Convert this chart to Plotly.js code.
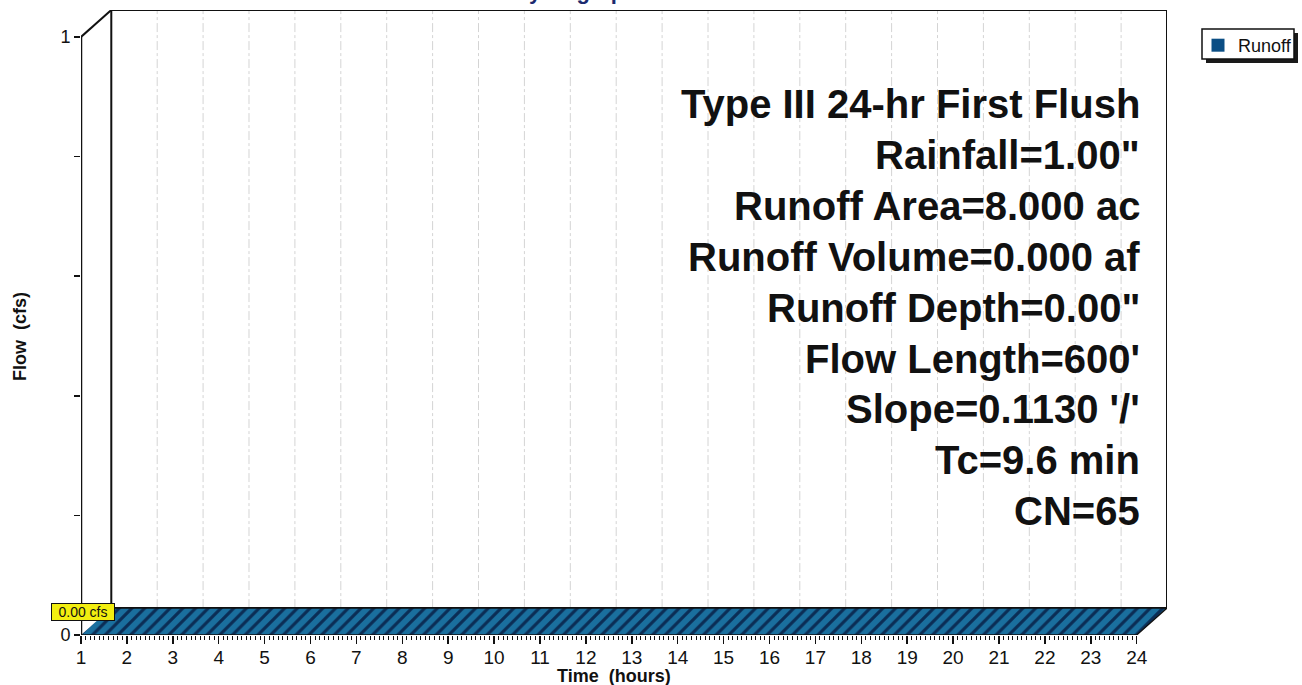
<!DOCTYPE html>
<html>
<head>
<meta charset="utf-8">
<script src="https://cdn.plot.ly/plotly-3.0.1.min.js"></script>
<style>html,body{margin:0;padding:0;background:#fff;}#chart{width:1302px;height:685px;}</style>
</head>
<body>
<div id="chart"></div>
<script>
// ---- data ----
const hours = [1,2,3,4,5,6,7,8,9,10,11,12,13,14,15,16,17,18,19,20,21,22,23,24];
const runoff = [0,0,0,0,0,0,0,0,0,0,0,0,0,0,0,0,0,0,0,0,0,0,0,0];
const yTickVals = [0,0.2,0.4,0.6,0.8,1];
const yTickText = ['0','','','','','1'];
const seriesName = 'Runoff';
const chartTitle = 'Hydrograph';
const xTitle = 'Time&nbsp;&nbsp;(hours)';
const yTitle = 'Flow&nbsp;&nbsp;(cfs)';
const infoLines = [
  'Type III 24-hr First Flush',
  'Rainfall=1.00"',
  'Runoff Area=8.000 ac',
  'Runoff Volume=0.000 af',
  'Runoff Depth=0.00"',
  "Flow Length=600'",
  "Slope=0.1130 '/'",
  'Tc=9.6 min',
  'CN=65'
];

// ---- styling / geometry ----
const W = 1302, H = 685;
const DX = 0.66, DY = 0.045;          // depth offset of the pseudo-3D back plane (data units)
const FONT = 'Liberation Sans, Arial, Helvetica, sans-serif';
const INK = '#111111';
const yMax = yTickVals[yTickVals.length - 1];
const xMin = hours[0], xMax = hours[hours.length - 1];

const px = v => v / W;
const py = v => 1 - v / H;

// ribbon (zero-flow series drawn with depth)
const ribbonX = hours.concat(hours.slice().reverse().map(h => h + DX));
const ribbonY = runoff.concat(runoff.slice().reverse().map(q => q + DY));

const minorTicks = [];
for (let i = 0; i <= (xMax - xMin) * 10; i++) minorTicks.push(+(xMin + i / 10).toFixed(2));

const traces = [
  {
    type: 'scatter', mode: 'lines', x: ribbonX, y: ribbonY,
    fill: 'toself', fillcolor: '#1a6f9e',
    fillpattern: {shape: '/', fgcolor: '#0b2d55', bgcolor: '#1a6f9e', size: 9, solidity: 0.35},
    line: {color: INK, width: 1.3}, showlegend: false, hoverinfo: 'skip'
  },
  {
    type: 'scatter', mode: 'markers', x: [null], y: [null], name: seriesName,
    marker: {symbol: 'square', size: 13, color: '#0b4e84'}, showlegend: true
  }
];

const shapes = [];
// back-plane vertical dash-dot gridlines
hours.slice(1, -1).forEach(h => {
  shapes.push({type: 'line', xref: 'x', yref: 'y', x0: h + DX, x1: h + DX, y0: DY, y1: yMax + DY,
    line: {color: '#d4d4d4', width: 1, dash: 'dashdot'}, layer: 'below'});
});
// back plane frame
shapes.push({type: 'rect', xref: 'x', yref: 'y', x0: xMin + DX, x1: xMax + DX, y0: DY, y1: yMax + DY,
  line: {color: INK, width: 2}, fillcolor: 'rgba(0,0,0,0)', layer: 'below'});
// front y-axis line and top diagonal
shapes.push({type: 'line', xref: 'x', yref: 'y', x0: xMin, x1: xMin, y0: 0, y1: yMax,
  line: {color: INK, width: 2.5}, layer: 'above'});
shapes.push({type: 'line', xref: 'x', yref: 'y', x0: xMin, x1: xMin + DX, y0: yMax, y1: yMax + DY,
  line: {color: INK, width: 2}, layer: 'above'});
// legend box with drop shadow
shapes.push({type: 'rect', xref: 'paper', yref: 'paper', x0: px(1206), x1: px(1298), y0: py(63), y1: py(33),
  line: {width: 0}, fillcolor: '#1a1a1a', layer: 'above'});
shapes.push({type: 'rect', xref: 'paper', yref: 'paper', x0: px(1202), x1: px(1294), y0: py(59), y1: py(29),
  line: {width: 1.5, color: INK}, fillcolor: '#ffffff', layer: 'above'});

const annotations = infoLines.map((t, i) => ({
  xref: 'paper', yref: 'paper', x: px(1142), y: py(104 + i * 50.9),
  xanchor: 'right', yanchor: 'middle', showarrow: false,
  text: '<b>' + t + '</b>', font: {family: FONT, size: 40, color: INK}
}));
annotations.push({
  xref: 'x', yref: 'y', x: xMin, y: Math.max(...runoff), xanchor: 'center', yanchor: 'middle', yshift: 23, xshift: 2,
  showarrow: false, text: Math.max(...runoff).toFixed(2) + ' cfs',
  font: {family: FONT, size: 14, color: INK}, bgcolor: '#f2ee10', bordercolor: INK, borderwidth: 1, borderpad: 0,
  width: 62
});
annotations.push({
  xref: 'paper', yref: 'paper', x: px(575), y: 1, yanchor: 'bottom', yshift: -6, showarrow: false,
  text: '<b>' + chartTitle + '</b>', font: {family: FONT, size: 22, color: '#1c2a6e'}
});
// axis titles
annotations.push({
  xref: 'paper', yref: 'paper', x: px(614), y: py(676), xanchor: 'center', yanchor: 'middle', showarrow: false,
  text: '<b>' + xTitle + '</b>', font: {family: FONT, size: 18, color: INK}
});
annotations.push({
  xref: 'paper', yref: 'paper', x: px(20), y: py(337), xanchor: 'center', yanchor: 'middle', showarrow: false,
  textangle: -90, text: '<b>' + yTitle + '</b>', font: {family: FONT, size: 18, color: INK}
});

const layout = {
  width: W, height: H,
  margin: {l: 0, r: 0, t: 0, b: 0},
  paper_bgcolor: '#fff', plot_bgcolor: 'rgba(0,0,0,0)',
  font: {family: FONT, color: INK},
  showlegend: true,
  legend: {x: px(1198), y: py(27), xanchor: 'left', yanchor: 'top', bgcolor: 'rgba(0,0,0,0)',
    borderwidth: 0, font: {family: FONT, size: 18, color: INK}},
  xaxis: {
    domain: [px(81), px(1167)], range: [xMin, xMax + DX],
    tickmode: 'array', tickvals: hours, ticktext: hours.map(String),
    ticks: 'outside', ticklen: 8, tickwidth: 1.5, tickcolor: INK,
    minor: {tickmode: 'array', tickvals: minorTicks, ticks: 'outside', ticklen: 4, tickwidth: 1, tickcolor: INK},
    showgrid: false, zeroline: false, showline: false, fixedrange: true,
    ticklabelstandoff: -3,
    tickfont: {family: FONT, size: 19, color: INK}
  },
  yaxis: {
    domain: [50 / H, 675 / H], range: [0, yMax + DY],
    tickmode: 'array', tickvals: yTickVals, ticktext: yTickText,
    ticks: 'outside', ticklen: 6, tickwidth: 1.5, tickcolor: INK,
    showgrid: false, zeroline: false, showline: false, fixedrange: true,
    tickfont: {family: FONT, size: 18, color: INK}
  },
  shapes: shapes,
  annotations: annotations
};

Plotly.newPlot('chart', traces, layout, {displayModeBar: false, staticPlot: true});
</script>
</body>
</html>
